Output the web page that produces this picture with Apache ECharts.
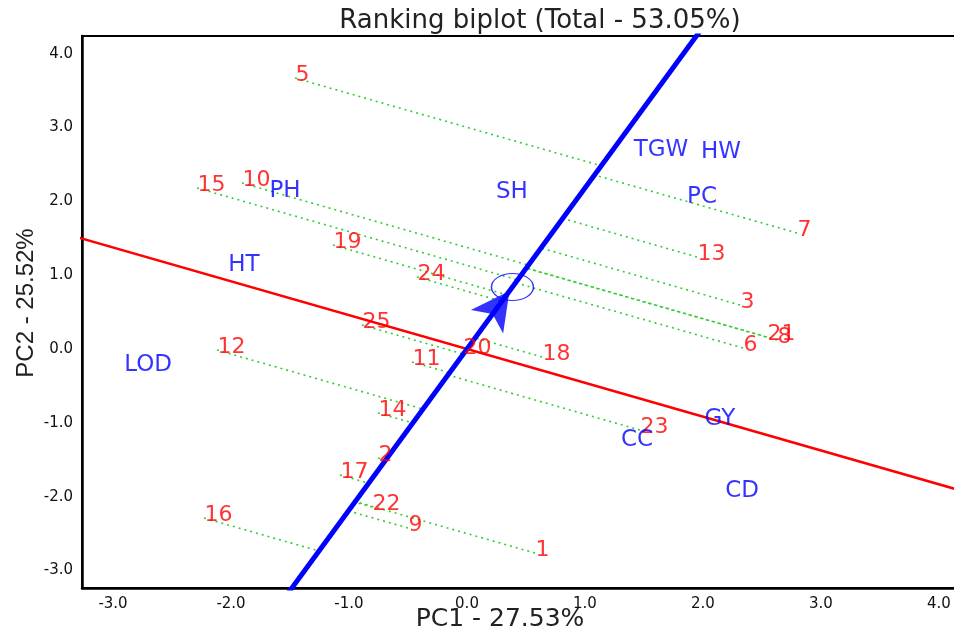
<!DOCTYPE html>
<html>
<head>
<meta charset="utf-8">
<title>Ranking biplot</title>
<script src="https://cdn.jsdelivr.net/npm/echarts@6/dist/echarts.min.js"></script>
<style>
html, body { margin: 0; padding: 0; background: #fff; }
#main { width: 954px; height: 632px; }
</style>
</head>
<body>
<div id="main"></div>
<script>
// genotypes (red labels)
var genoNames = ['1', '2', '3', '5', '6', '7', '8', '9', '10', '11', '12', '13', '14', '15', '16', '17', '18', '19', '20', '21', '22', '23', '24', '25'];
var genoX = [0.576, -0.754, 2.314, -1.458, 2.339, 2.797, 2.627, -0.500, -1.907, -0.466, -2.119, 1.949, -0.754, -2.288, -2.229, -1.076, 0.636, -1.136, -0.034, 2.542, -0.805, 1.466, -0.424, -0.890];
var genoY = [-2.764, -1.477, 0.596, 3.672, 0.014, 1.572, 0.122, -2.425, 2.249, -0.176, -0.014, 1.247, -0.867, 2.182, -2.290, -1.707, -0.108, 1.409, -0.027, 0.163, -2.141, -1.098, 0.976, 0.325];

// traits (blue labels)
var traitNames = ['TGW', 'HW', 'PC', 'SH', 'PH', 'HT', 'LOD', 'CC', 'GY', 'CD'];
var traitX = [1.644, 2.153, 1.992, 0.381, -1.542, -1.890, -2.703, 1.441, 2.144, 2.331];
var traitY = [2.696, 2.669, 2.060, 2.127, 2.141, 1.138, -0.217, -1.233, -0.949, -1.924];

// average environment coordinate (small circle)
var aecX = 0.385, aecY = 0.84;

var tickVals = [-3, -2, -1, 0, 1, 2, 3, 4];

// ATC direction
var len = Math.sqrt(aecX * aecX + aecY * aecY);
var ux = aecX / len, uy = aecY / len;

var genoPts = genoNames.map(function (n, i) {
    return { name: n, value: [genoX[i], genoY[i]] };
});
var traitPts = traitNames.map(function (n, i) {
    return { name: n, value: [traitX[i], traitY[i]] };
});
// dotted lines from each genotype to the ATC abscissa
var projLines = genoNames.map(function (n, i) {
    var t = genoX[i] * ux + genoY[i] * uy;
    return { coords: [[genoX[i], genoY[i]], [t * ux, t * uy]] };
});
var atcLine = [[-20 * ux, -20 * uy], [20 * ux, 20 * uy]];
var ordLine = [[-20 * uy, 20 * ux], [20 * uy, -20 * ux]];

var fmt = function (v) { return v.toFixed(1); };

var myChart = echarts.init(document.getElementById('main'));
var option = {
    animation: false,
    backgroundColor: '#fff',
    title: {
        text: 'Ranking biplot (Total - 53.05%)',
        left: 535,
        textAlign: 'center',
        top: 3,
        textStyle: { fontFamily: 'DejaVu Sans', fontSize: 26, fontWeight: 'normal', color: '#222' }
    },
    grid: {
        left: 82, right: -3, top: 36, bottom: 44,
        outerBoundsMode: 'none',
        show: true, borderColor: '#000', borderWidth: 2
    },
    xAxis: {
        type: 'value',
        min: -3.263, max: 4.153,
        name: 'PC1 - 27.53%',
        nameLocation: 'middle',
        nameGap: 19,
        nameMoveOverlap: false,
        nameTextStyle: { fontFamily: 'DejaVu Sans', fontSize: 25, color: '#222', padding: [0, 39, 0, 0] },
        axisLine: { show: true, onZero: false, lineStyle: { color: '#000', width: 2.5 } },
        axisTick: { show: false },
        splitLine: { show: false },
        axisLabel: { customValues: tickVals, formatter: fmt, color: '#111', fontSize: 15, fontFamily: 'DejaVu Sans', margin: 9 }
    },
    yAxis: {
        type: 'value',
        min: -3.238, max: 4.241,
        name: 'PC2 - 25.52%',
        nameLocation: 'middle',
        nameGap: 44,
        nameMoveOverlap: false,
        nameTextStyle: { fontFamily: 'Liberation Sans', fontSize: 24, color: '#222', padding: [0, 0, 0, 18] },
        axisLine: { show: true, onZero: false, lineStyle: { color: '#000', width: 2.5 } },
        axisTick: { show: false },
        splitLine: { show: false },
        axisLabel: { customValues: tickVals, formatter: fmt, color: '#111', fontSize: 15, fontFamily: 'DejaVu Sans', margin: 9 }
    },
    series: [
        {
            id: 'proj',
            type: 'lines',
            coordinateSystem: 'cartesian2d',
            silent: true,
            z: 1,
            lineStyle: { color: '#33cc33', width: 1.6, type: [2, 4], opacity: 1 },
            data: projLines
        },
        {
            id: 'ord',
            type: 'line',
            silent: true,
            symbol: 'none',
            z: 2,
            lineStyle: { color: '#ff0000', width: 2.5 },
            data: ordLine
        },
        {
            id: 'atc',
            type: 'line',
            silent: true,
            symbol: 'none',
            z: 3,
            lineStyle: { color: '#0000ff', width: 5 },
            data: atcLine
        },
        {
            id: 'aec',
            type: 'scatter',
            silent: true,
            z: 4,
            symbol: 'circle',
            symbolSize: [42, 27],
            itemStyle: { color: 'rgba(0,0,0,0)', borderColor: '#0000ff', borderWidth: 1.2 },
            data: [[aecX, aecY]]
        },
        {
            id: 'arrow',
            type: 'scatter',
            silent: true,
            z: 4,
            symbol: 'arrow',
            symbolSize: [30, 38],
            itemStyle: { color: '#0000ff' },
            data: []
        },
        {
            id: 'geno',
            type: 'scatter',
            silent: true,
            z: 6,
            symbolSize: 1,
            itemStyle: { color: 'rgba(0,0,0,0)' },
            label: {
                show: true, position: 'right', distance: 0, offset: [0, -3],
                formatter: '{b}', color: '#ff0000', fontSize: 22, fontFamily: 'DejaVu Sans'
            },
            data: genoPts
        },
        {
            id: 'trait',
            type: 'scatter',
            silent: true,
            z: 6,
            symbolSize: 1,
            itemStyle: { color: 'rgba(0,0,0,0)' },
            label: {
                show: true, position: 'inside',
                formatter: '{b}', color: '#0000ff', fontSize: 23, fontFamily: 'DejaVu Sans'
            },
            data: traitPts
        }
    ]
};
myChart.setOption(option);

// arrow head on the ATC, tip near the average environment
var p0 = myChart.convertToPixel({ gridIndex: 0 }, [0, 0]);
var p1 = myChart.convertToPixel({ gridIndex: 0 }, [aecX, aecY]);
var dx = p1[0] - p0[0], dy = p1[1] - p0[1];
var d = Math.sqrt(dx * dx + dy * dy);
var rot = -Math.atan2(dx, -dy) * 180 / Math.PI;
var c = myChart.convertFromPixel({ gridIndex: 0 }, [p1[0] - dx / d * 5, p1[1] - dy / d * 5]);
myChart.setOption({ series: [{ id: 'arrow', symbolRotate: rot, data: [c] }] });
</script>
</body>
</html>
